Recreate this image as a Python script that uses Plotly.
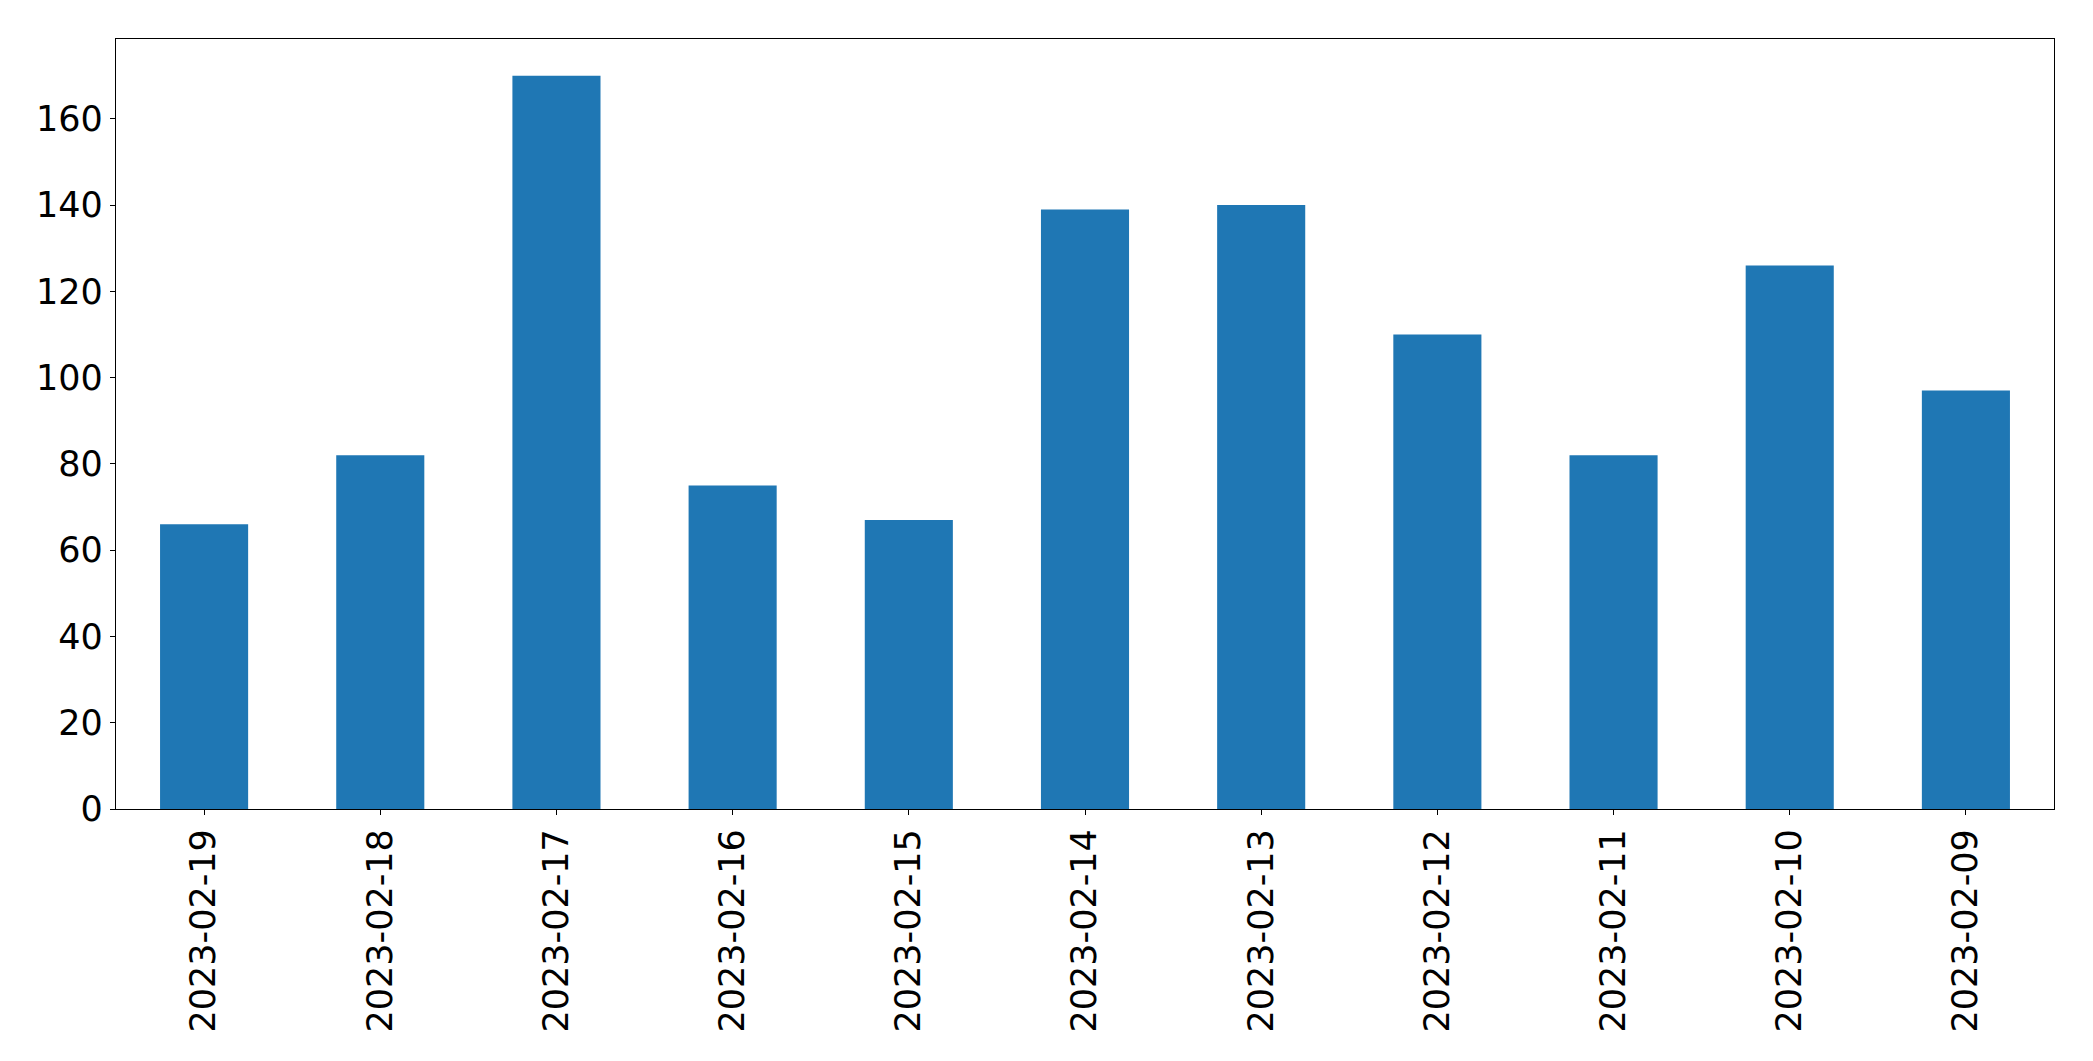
import plotly.graph_objects as go

dates = ["2023-02-19", "2023-02-18", "2023-02-17", "2023-02-16", "2023-02-15",
         "2023-02-14", "2023-02-13", "2023-02-12", "2023-02-11", "2023-02-10", "2023-02-09"]
counts = [66, 82, 170, 75, 67, 139, 140, 110, 82, 126, 97]
y_ticks = [0, 20, 40, 60, 80, 100, 120, 140, 160]

fig = go.Figure(go.Bar(x=list(range(len(dates))), y=counts, width=0.5,
                       marker=dict(color="#1f77b4", line=dict(width=0))))

font = dict(family="DejaVu Sans", size=35, color="black")
fig.update_layout(
    width=2093, height=1061,
    margin=dict(l=116, r=39, t=39, b=252),
    plot_bgcolor="white", paper_bgcolor="white",
    showlegend=False,
    font=font,
    xaxis=dict(tickmode="array", tickvals=list(range(len(dates))), ticktext=dates,
               tickangle=-90, range=[-0.5, len(dates) - 0.5],
               showline=True, linecolor="black", linewidth=1.3, mirror=True,
               ticks="outside", ticklen=5, tickcolor="black", showgrid=False,
               zeroline=False, tickfont=font),
    yaxis=dict(tickmode="array", tickvals=y_ticks, range=[0, 178.5],
               showline=True, linecolor="black", linewidth=1.3, mirror=True,
               ticks="outside", ticklen=5, tickcolor="black", showgrid=False,
               zeroline=False, tickfont=font),
)
fig.write_html("out.html")
